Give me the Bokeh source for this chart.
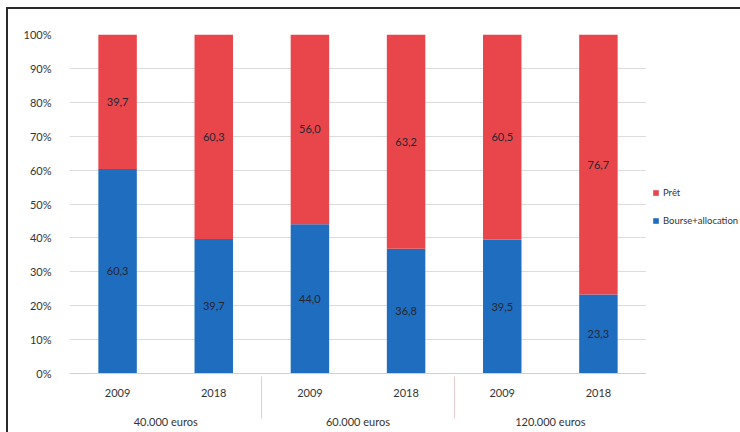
from bokeh.plotting import figure
from bokeh.layouts import row
from bokeh.models import ColumnDataSource, FactorRange, Legend, LegendItem, PrintfTickFormatter, FixedTicker
from bokeh.core.properties import value
from bokeh.embed import file_html
from bokeh.resources import INLINE

groups = ["40.000 euros", "60.000 euros", "120.000 euros"]
years = ["2009", "2018"]
bourse = [60.3, 39.7, 44.0, 36.8, 39.5, 23.3]
pret = [39.7, 60.3, 56.0, 63.2, 60.5, 76.7]
series_names = ["Prêt", "Bourse+allocation"]
y_ticks = [0, 10, 20, 30, 40, 50, 60, 70, 80, 90, 100]

RED = "#e8464a"
BLUE = "#1f6dbf"
FONT = "Lato"

# the trailing blank line only adds room between the year row and the group row
factors = [(g, y + "\n ") for g in groups for y in years]

src = ColumnDataSource(dict(
    x=factors,
    bourse=bourse,
    pret=pret,
    bourse_mid=[b / 2 for b in bourse],
    pret_mid=[b + p / 2 for b, p in zip(bourse, pret)],
    bourse_lbl=[f"{b:.1f}".replace(".", ",") for b in bourse],
    pret_lbl=[f"{p:.1f}".replace(".", ",") for p in pret],
))

p = figure(
    x_range=FactorRange(*factors, factor_padding=0, group_padding=0, range_padding=0),
    y_range=(0, 100),
    frame_width=577, frame_height=339,
    output_backend="svg", toolbar_location=None,
    min_border_left=61, min_border_right=0, min_border_top=25, min_border_bottom=59,
)

r = p.vbar_stack(["bourse", "pret"], x="x", width=0.4, source=src,
                 color=[BLUE, RED], line_color=None)

p.text(x="x", y="bourse_mid", text="bourse_lbl", source=src, text_align="center",
       text_baseline="middle", text_font=value(FONT), text_font_size="11px", text_color="#262633")
p.text(x="x", y="pret_mid", text="pret_lbl", source=src, text_align="center",
       text_baseline="middle", text_font=value(FONT), text_font_size="11px", text_color="#262633")

p.outline_line_color = None
p.xgrid.grid_line_color = None
p.ygrid.grid_line_color = "#dcdcdc"
p.ygrid.grid_line_width = 1

p.yaxis.ticker = FixedTicker(ticks=y_ticks)
p.yaxis.formatter = PrintfTickFormatter(format="%d%%")
p.yaxis.axis_line_color = None
p.yaxis.major_tick_line_color = None
p.yaxis.minor_tick_line_color = None
p.yaxis.major_label_text_font = FONT
p.yaxis.major_label_text_font_size = "11px"
p.yaxis.major_label_text_color = "#333333"
p.yaxis.major_label_standoff = 12

p.xaxis.axis_line_color = "#d0d0d0"
p.xaxis.major_tick_line_color = None
p.xaxis.minor_tick_line_color = None
p.xaxis.major_label_text_font = FONT
p.xaxis.major_label_text_font_size = "11px"
p.xaxis.major_label_text_color = "#333333"
p.xaxis.major_label_text_line_height = 0.55
p.xaxis.major_label_standoff = 6
p.xaxis.group_text_font = FONT
p.xaxis.group_text_font_size = "11px"
p.xaxis.group_text_font_style = "normal"
p.xaxis.group_text_color = "#333333"
p.xaxis.separator_line_color = "#e6cccc"
p.xaxis.separator_line_width = 1

# legend panel
p2 = figure(
    x_range=FactorRange(*factors), y_range=(1000, 1100),
    width=94, height=423,
    output_backend="svg", toolbar_location=None,
    min_border=0, min_border_left=0, min_border_right=0, min_border_top=0, min_border_bottom=0,
)
p2.axis.visible = False
p2.grid.visible = False
p2.outline_line_color = None
r2 = p2.vbar_stack(["bourse", "pret"], x="x", width=0.4, source=src,
                   color=[BLUE, RED], line_color=None)
for rr in r2:
    rr.visible = False
legend = Legend(items=[LegendItem(label=series_names[0], renderers=[r2[1]]),
                       LegendItem(label=series_names[1], renderers=[r2[0]])],
                location=(6, 147), border_line_color=None, background_fill_alpha=0,
                inactive_fill_alpha=0,
                label_text_font=FONT, label_text_font_size="9.5px", label_text_color="#333333",
                glyph_width=7, glyph_height=7, spacing=16, padding=0, margin=0,
                label_standoff=4, label_height=12)
p2.add_layout(legend)

layout = row(p, p2, margin=(7, 0, 0, 6), spacing=0,
             styles={"border-top": "2px solid #2a2a2a", "border-left": "2px solid #2a2a2a"})

open("out.html", "w").write(file_html(layout, INLINE))
